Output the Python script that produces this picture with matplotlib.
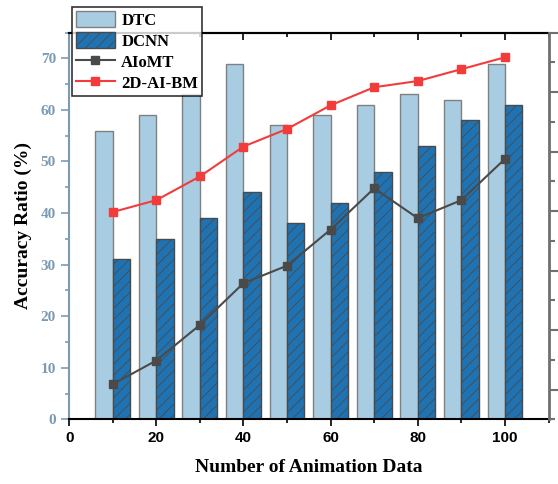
import numpy as np
import matplotlib
matplotlib.use('Agg')
import matplotlib.pyplot as plt
from matplotlib.ticker import MultipleLocator, NullFormatter

# values
x_vals = [10, 20, 30, 40, 50, 60, 70, 80, 90, 100]
dtc = [56, 59, 63, 69, 57, 59, 61, 63, 62, 69]
dcnn = [31, 35, 39, 44, 38, 42, 48, 53, 58, 61]
aiomt = [6.8, 11.4, 18.3, 26.4, 29.8, 36.8, 44.8, 39.0, 42.5, 50.5]
ai_bm = [40.2, 42.5, 47.1, 52.9, 56.3, 60.9, 64.4, 65.6, 67.9, 70.2]

plt.rcParams['hatch.linewidth'] = 0.6
serif = ['Liberation Serif', 'DejaVu Serif']
axis_col = '#7b9bb4'

fig = plt.figure(figsize=(5.58, 4.84), dpi=100)
ax = fig.add_axes([0.124, 0.1337, 0.859, 0.799])

x = np.array(x_vals)
w = 4
b1 = ax.bar(x - w / 2, dtc, w, color='#a8cde2', edgecolor='#808080', linewidth=1, label='DTC', zorder=2)
b2 = ax.bar(x + w / 2, dcnn, w, color='#1f73b3', edgecolor='#4a4a4a', linewidth=1, hatch='///', label='DCNN', zorder=2)
l1, = ax.plot(x, aiomt, color='#4a4a4a', marker='s', markersize=6, lw=1.5, label='AIoMT', zorder=3)
l2, = ax.plot(x, ai_bm, color='#f23c3c', marker='s', markersize=6, lw=1.5, label='2D-AI-BM', zorder=3)

ax.set_xlim(0, 110)
ax.set_ylim(0, 75)
ax.xaxis.set_major_locator(MultipleLocator(20))
ax.xaxis.set_minor_locator(MultipleLocator(10))
ax.yaxis.set_major_locator(MultipleLocator(10))
ax.yaxis.set_minor_locator(MultipleLocator(5))

ax.spines['left'].set_color(axis_col)
ax.spines['left'].set_linewidth(1.5)
ax.spines['bottom'].set_linewidth(1.5)
ax.spines['top'].set_linewidth(1.5)
ax.spines['right'].set_visible(False)

ax.tick_params(axis='y', which='major', length=6, width=1.2, color=axis_col, labelcolor=axis_col)
ax.tick_params(axis='y', which='minor', length=3, width=1.2, color=axis_col)
ax.tick_params(axis='x', which='major', length=5, width=1.2, labelsize=11)
ax.tick_params(axis='x', which='minor', length=3, width=1.2)
for lab in ax.get_yticklabels():
    lab.set_fontfamily(serif)
    lab.set_fontweight('bold')
    lab.set_fontsize(11)
for lab in ax.get_xticklabels():
    lab.set_fontfamily(['Liberation Sans', 'DejaVu Sans'])
    lab.set_fontweight('bold')

# top ticks point inward
top = ax.secondary_xaxis('top')
top.xaxis.set_major_locator(MultipleLocator(20))
top.xaxis.set_minor_locator(MultipleLocator(10))
top.xaxis.set_major_formatter(NullFormatter())
top.tick_params(which='major', direction='in', length=5, width=1.2)
top.tick_params(which='minor', direction='in', length=3, width=1.2)
top.spines['top'].set_linewidth(1.5)

ax.set_xlabel('Number of Animation Data', fontfamily=serif, fontweight='bold', fontsize=14, labelpad=10)
ax.set_ylabel('Accuracy Ratio (%)', fontfamily=serif, fontweight='bold', fontsize=14, labelpad=6)

# right axis, ticks only
ax2 = ax.twinx()
ax2.set_ylim(-0.5, 6)
ax2.yaxis.set_major_locator(MultipleLocator(1))
ax2.yaxis.set_minor_locator(MultipleLocator(0.5))
ax2.yaxis.set_major_formatter(NullFormatter())
for s in ['left', 'top', 'bottom']:
    ax2.spines[s].set_visible(False)
ax2.spines['right'].set_color('#707070')
ax2.spines['right'].set_linewidth(2)
ax2.tick_params(axis='y', which='major', length=8, width=1.5, color='#707070')
ax2.tick_params(axis='y', which='minor', length=4, width=1.5, color='#707070')

leg = fig.legend(handles=[b1, b2, l1, l2], loc='upper left', bbox_to_anchor=(72 / 558, 1 - 7 / 484),
                 prop={'family': serif, 'weight': 'bold', 'size': 12}, frameon=True, fancybox=False,
                 edgecolor='black', handlelength=2.3, handleheight=1.1, labelspacing=0.2,
                 borderpad=0.25, handletextpad=0.4, borderaxespad=0)
leg.get_frame().set_linewidth(1.2)

fig.savefig('out.png', dpi=100)
